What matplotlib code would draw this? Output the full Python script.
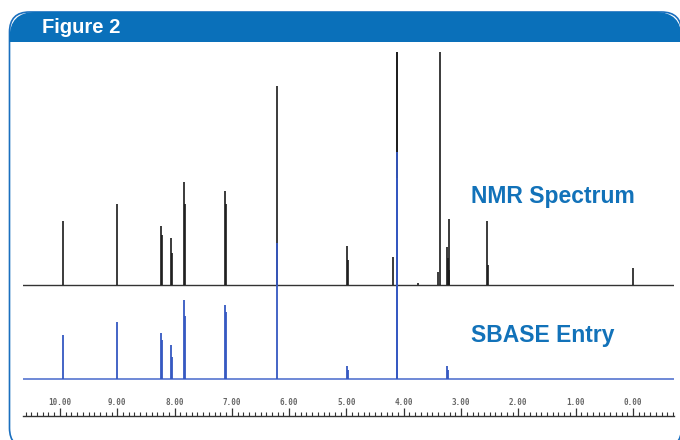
import matplotlib.pyplot as plt
import numpy as np
from matplotlib.patches import FancyBboxPatch, Rectangle
from matplotlib.ticker import FormatStrFormatter, MultipleLocator

# peak lists (ppm, height in px above own baseline)
nmr_ppm = [9.953, 9.011, 8.243, 8.225, 8.063, 8.040, 7.841, 7.824, 7.120, 7.103,
           6.218, 4.986, 4.969, 4.188, 4.124, 4.114, 3.752, 3.394, 3.368, 3.246,
           3.236, 3.202, 3.212, 2.539, 2.532, 0.000]
nmr_height = [64, 81, 59, 50, 47, 32, 103, 81, 94, 81,
              199, 39, 25, 28, 260, 250, 2, 13, 250, 38,
              27, 66, 15, 64, 20, 17]

sbase_ppm = [9.953, 9.011, 8.243, 8.225, 8.063, 8.040, 7.841, 7.824, 7.120, 7.103,
             6.218, 4.986, 4.969, 4.124, 4.114, 3.246, 3.236]
sbase_height = [44, 57, 46, 39, 34, 22, 79, 63, 74, 67,
                135, 13, 9, 226, 200, 13, 9]

ruler_ticks = np.arange(0, 11, 1)

BLUE = "#0a70ba"
TXT = "#1272b9"

fig = plt.figure(figsize=(6.8, 4.4), dpi=100)

# frame + header in pixel coordinates
bg = fig.add_axes([0, 0, 1, 1])
bg.set_xlim(0, 680)
bg.set_ylim(440, 0)
bg.axis("off")
frame = FancyBboxPatch((9.5, 12), 672, 436, boxstyle="round,pad=0,rounding_size=20",
                       fc="white", ec="#1a6fbf", lw=1.2)
bg.add_patch(frame)
head = FancyBboxPatch((9.5, 12), 672, 80, boxstyle="round,pad=0,rounding_size=26",
                      fc=BLUE, ec="none")
bg.add_patch(head)
head.set_clip_path(Rectangle((0, 12), 680, 30, transform=bg.transData))
bg.text(42, 33, "Figure 2", color="white", fontsize=14.5, fontweight="bold",
        family="Liberation Sans", va="baseline")
bg.text(471, 203, "NMR Spectrum", color=TXT, fontsize=16.5, fontweight="bold",
        family="Liberation Sans", va="baseline")
bg.text(471, 342, "SBASE Entry", color=TXT, fontsize=16.5, fontweight="bold",
        family="Liberation Sans", va="baseline")

# spectra
ax = fig.add_axes([22.7 / 680, 1 - 416 / 440, (674 - 22.7) / 680, (416 - 52) / 440])
ax.patch.set_alpha(0)
ax.set_xlim(10.65, -0.716)
ax.set_ylim(0, 364)

nmr_base = 416 - 285
sbase_base = 416 - 378.5
ax.axhline(nmr_base, color="#333333", lw=1.0, zorder=2)
ax.vlines(nmr_ppm, nmr_base, nmr_base + np.array(nmr_height), color="#1a1a1a", lw=1.2, zorder=2)
ax.axhline(sbase_base, color="#4668cc", lw=1.1, zorder=3)
ax.vlines(sbase_ppm, sbase_base, sbase_base + np.array(sbase_height), color="#3558c2", lw=1.3, zorder=3)

for s in ["left", "right", "top"]:
    ax.spines[s].set_visible(False)
ax.spines["bottom"].set_color("#333333")
ax.spines["bottom"].set_linewidth(1.0)
ax.set_yticks([])
ax.set_xticks(ruler_ticks)
ax.xaxis.set_minor_locator(MultipleLocator(0.1))
ax.xaxis.set_major_formatter(FormatStrFormatter("%.2f"))
ax.tick_params(axis="x", which="major", direction="in", length=6, width=0.9, color="#333333",
               pad=-13, labelsize=5.5, labelcolor="#666666")
ax.tick_params(axis="x", which="minor", direction="in", length=3, width=0.8, color="#333333")
for lab in ax.get_xticklabels():
    lab.set_family("DejaVu Sans Mono")
    lab.set_fontweight("bold")

fig.savefig("out.png", dpi=100)
